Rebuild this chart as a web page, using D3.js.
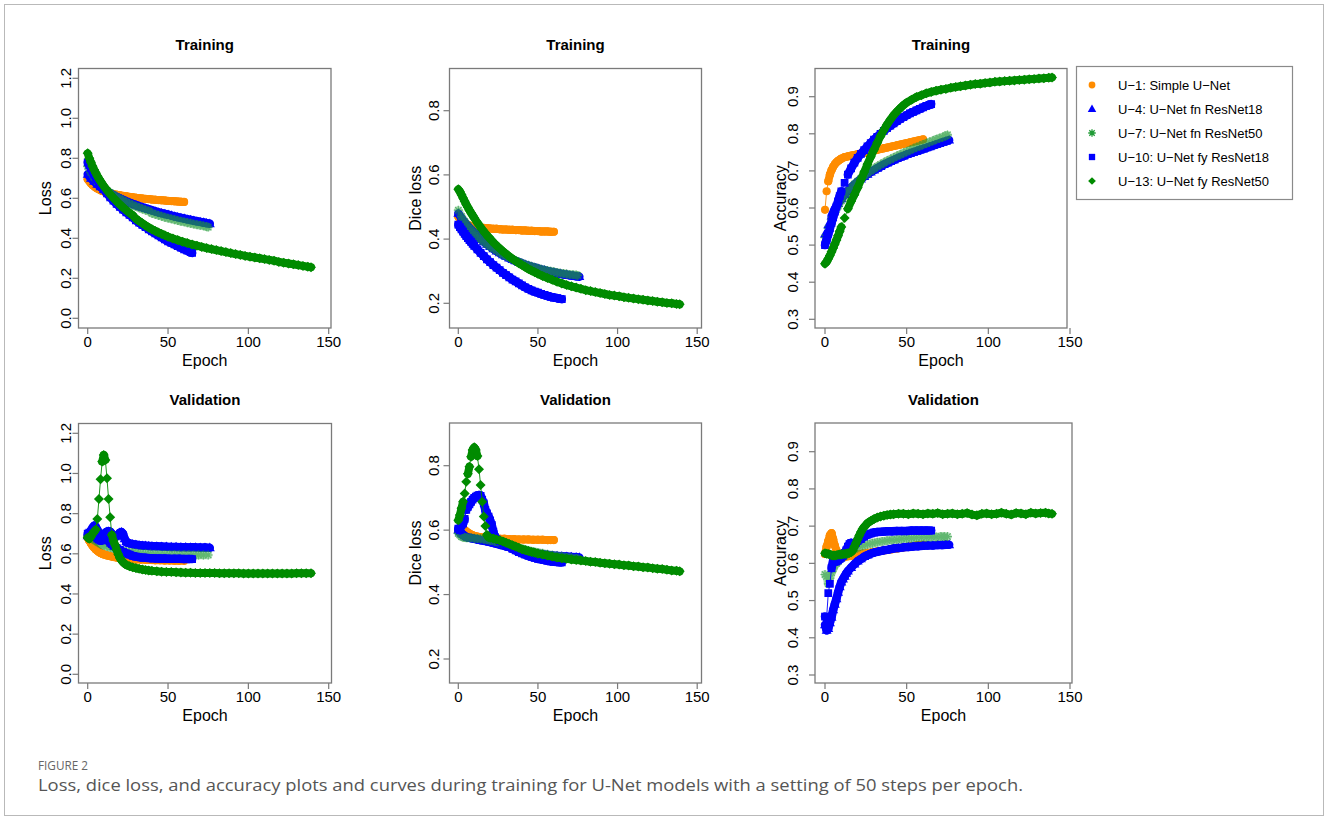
<!DOCTYPE html>
<html><head><meta charset="utf-8">
<script src="https://cdn.jsdelivr.net/npm/d3@7"></script>
<style>
body{margin:0;background:#fff;}
svg text{font-family:"Liberation Sans",Arial,Helvetica,sans-serif;fill:#000;}
</style></head><body>
<svg id="fig" width="1328" height="820"></svg>
<script>
// ---------------- legend / series ----------------
const seriesNames = ["U\u22121: Simple U\u2212Net","U\u22124: U\u2212Net fn ResNet18","U\u22127: U\u2212Net fn ResNet50","U\u221210: U\u2212Net fy ResNet18","U\u221213: U\u2212Net fy ResNet50"];
const seriesColors = ["#ff8c00","#0000ff","#1f9a35","#0000ff","#008b00"];
const seriesShapes = ["circle","triangle","asterisk","square","diamond"];

// ---------------- tick labels ----------------
const xTicks = [0,50,100,150];
const lossTicks = [0.0,0.2,0.4,0.6,0.8,1.0,1.2];
const diceTicks = [0.2,0.4,0.6,0.8];
const accTicks = [0.3,0.4,0.5,0.6,0.7,0.8,0.9];

// ---------------- data: [epoch, value] ----------------
// Training loss
const trainLossU1 = [[0,.695],[1,.685],[2,.675],[3,.667],[4,.66],[5,.654],[6,.649],[7,.645],[8,.641],[9,.637],[10,.634],[12,.629],[14,.625],[16,.621],[18,.618],[20,.615],[22,.612],[24,.61],[26,.607],[28,.605],[30,.603],[32,.601],[34,.599],[36,.597],[38,.596],[40,.594],[42,.593],[44,.591],[46,.59],[48,.589],[50,.587],[52,.586],[54,.585],[56,.584],[58,.583],[60,.582]];
const trainLossU4 = [[0,.72],[2,.70],[4,.685],[6,.67],[8,.657],[10,.645],[12,.635],[14,.625],[16,.616],[18,.607],[20,.6],[22,.592],[24,.585],[26,.578],[28,.572],[30,.566],[32,.56],[34,.555],[36,.55],[38,.545],[40,.54],[42,.535],[44,.53],[46,.526],[48,.522],[50,.518],[52,.514],[54,.51],[56,.506],[58,.502],[60,.499],[62,.495],[64,.492],[66,.488],[68,.485],[70,.482],[72,.479],[74,.476],[76,.473]];
const trainLossU7 = [[0,.76],[2,.73],[4,.705],[6,.685],[8,.668],[10,.653],[12,.64],[14,.628],[16,.617],[18,.607],[20,.598],[22,.589],[24,.581],[26,.573],[28,.566],[30,.559],[32,.553],[34,.547],[36,.541],[38,.536],[40,.525],[42,.52],[44,.515],[46,.51],[48,.505],[50,.501],[52,.497],[54,.493],[56,.489],[58,.485],[60,.482],[62,.478],[64,.475],[66,.471],[68,.468],[70,.465],[72,.462],[74,.458],[75,.456]];
const trainLossU10 = [[0,.78],[1,.765],[2,.75],[3,.735],[4,.72],[5,.705],[6,.692],[7,.68],[8,.668],[9,.656],[10,.645],[12,.624],[14,.605],[16,.588],[18,.572],[20,.557],[22,.543],[24,.53],[26,.517],[28,.505],[30,.49],[32,.478],[34,.467],[36,.456],[38,.445],[40,.435],[42,.425],[44,.415],[46,.405],[48,.395],[50,.385],[52,.377],[54,.369],[56,.361],[58,.353],[60,.345],[62,.338],[64,.331],[65,.327]];
const trainLossU13 = [[0,.825],[1,.80],[2,.78],[3,.76],[4,.743],[5,.727],[6,.712],[7,.698],[8,.685],[9,.673],[10,.661],[12,.64],[14,.62],[16,.602],[18,.585],[20,.569],[22,.554],[24,.54],[26,.527],[28,.515],[30,.498],[32,.486],[34,.475],[36,.464],[38,.454],[40,.445],[42,.437],[44,.429],[46,.422],[48,.415],[50,.408],[53,.399],[56,.391],[59,.383],[62,.376],[65,.369],[68,.363],[71,.357],[74,.351],[77,.346],[80,.341],[83,.336],[86,.331],[89,.326],[92,.321],[95,.317],[98,.312],[101,.308],[104,.304],[107,.3],[110,.296],[113,.292],[116,.288],[119,.282],[122,.278],[125,.274],[128,.27],[131,.266],[134,.262],[137,.258],[139,.255]];

// Training dice loss
const trainDiceU1 = [[0,.47],[1,.462],[2,.456],[3,.452],[4,.449],[5,.446],[6,.444],[7,.442],[8,.441],[10,.439],[12,.437],[14,.436],[16,.435],[18,.434],[20,.433],[22,.432],[24,.432],[26,.431],[28,.43],[30,.43],[32,.429],[34,.429],[36,.428],[38,.428],[40,.427],[42,.427],[44,.426],[46,.426],[48,.425],[50,.425],[52,.424],[54,.424],[56,.424],[58,.423],[60,.423]];
const trainDiceU4 = [[0,.48],[2,.465],[4,.452],[6,.44],[8,.43],[10,.42],[12,.41],[14,.401],[16,.392],[18,.384],[20,.377],[22,.37],[24,.363],[26,.357],[28,.351],[30,.346],[32,.341],[34,.336],[36,.332],[38,.328],[40,.324],[42,.32],[44,.317],[46,.314],[48,.311],[50,.308],[52,.305],[54,.303],[56,.3],[58,.298],[60,.296],[62,.294],[64,.292],[66,.29],[68,.289],[70,.287],[72,.286],[74,.284],[76,.283]];
const trainDiceU7 = [[0,.49],[2,.47],[4,.455],[6,.442],[8,.43],[10,.42],[12,.41],[14,.4],[16,.392],[18,.384],[20,.377],[22,.37],[24,.364],[26,.358],[28,.352],[30,.347],[32,.342],[34,.337],[36,.333],[38,.329],[40,.325],[42,.321],[44,.318],[46,.315],[48,.312],[50,.309],[52,.306],[54,.304],[56,.302],[58,.3],[60,.298],[62,.296],[64,.294],[66,.293],[68,.291],[70,.29],[72,.289],[74,.288],[75,.287]];
const trainDiceU10 = [[0,.445],[1,.437],[2,.43],[3,.423],[4,.416],[5,.409],[6,.403],[7,.397],[8,.391],[9,.385],[10,.379],[12,.368],[14,.357],[16,.347],[18,.337],[20,.328],[22,.319],[24,.311],[26,.303],[28,.295],[30,.288],[32,.281],[34,.274],[36,.268],[38,.262],[40,.256],[42,.25],[44,.245],[46,.24],[48,.236],[50,.233],[52,.229],[54,.226],[56,.223],[58,.22],[60,.218],[62,.216],[64,.214],[65,.213]];
const trainDiceU13 = [[0,.555],[1,.548],[2,.538],[3,.528],[4,.518],[5,.508],[6,.499],[7,.49],[8,.482],[9,.474],[10,.466],[12,.451],[14,.437],[16,.424],[18,.412],[20,.401],[22,.39],[24,.38],[26,.371],[28,.362],[30,.354],[32,.346],[34,.339],[36,.332],[38,.325],[40,.319],[42,.313],[44,.307],[46,.302],[48,.297],[50,.292],[53,.285],[56,.279],[59,.273],[62,.267],[65,.262],[68,.257],[71,.253],[74,.249],[77,.245],[80,.241],[83,.238],[86,.235],[89,.232],[92,.229],[95,.226],[98,.224],[101,.222],[104,.219],[107,.217],[110,.215],[113,.213],[116,.211],[119,.209],[122,.207],[125,.205],[128,.203],[131,.201],[134,.2],[137,.198],[139,.197]];

// Training accuracy
const trainAccU1 = [[0,.595],[1,.645],[2,.672],[3,.69],[4,.702],[5,.711],[6,.718],[7,.723],[8,.727],[9,.73],[10,.733],[12,.737],[14,.739],[16,.741],[18,.743],[20,.745],[22,.747],[24,.749],[26,.751],[28,.753],[30,.755],[32,.757],[34,.759],[36,.761],[38,.763],[40,.765],[42,.767],[44,.769],[46,.771],[48,.773],[50,.775],[52,.777],[54,.779],[56,.781],[58,.783],[60,.785]];
const trainAccU4 = [[0,.53],[2,.555],[4,.578],[6,.597],[8,.612],[10,.625],[12,.636],[14,.646],[16,.655],[18,.663],[20,.671],[22,.678],[24,.685],[26,.691],[28,.697],[30,.702],[32,.707],[34,.712],[36,.717],[38,.721],[40,.725],[42,.729],[44,.733],[46,.737],[48,.74],[50,.744],[52,.747],[54,.75],[56,.753],[58,.756],[60,.759],[62,.762],[64,.765],[66,.768],[68,.771],[70,.774],[72,.777],[74,.78],[76,.783]];
const trainAccU7 = [[0,.52],[2,.545],[4,.568],[6,.588],[8,.605],[10,.62],[12,.633],[14,.645],[16,.655],[18,.664],[20,.672],[22,.68],[24,.687],[26,.694],[28,.7],[30,.706],[32,.712],[34,.717],[36,.722],[38,.727],[40,.731],[42,.736],[44,.74],[46,.744],[48,.748],[50,.752],[52,.756],[54,.76],[56,.764],[58,.767],[60,.771],[62,.774],[64,.778],[66,.781],[68,.785],[70,.788],[72,.791],[74,.795],[75,.797]];
const trainAccU10 = [[0,.50],[1,.515],[2,.53],[3,.545],[4,.56],[5,.575],[6,.59],[7,.604],[8,.618],[9,.632],[10,.645],[12,.668],[14,.69],[16,.707],[18,.722],[20,.735],[22,.746],[24,.756],[26,.766],[28,.775],[30,.784],[32,.792],[34,.8],[36,.808],[38,.815],[40,.822],[42,.828],[44,.834],[46,.84],[48,.845],[50,.85],[52,.855],[54,.859],[56,.863],[58,.867],[60,.871],[62,.875],[64,.878],[65,.88]];
const trainAccU13 = [[0,.45],[1,.455],[2,.463],[3,.472],[4,.482],[5,.492],[6,.503],[7,.514],[8,.525],[9,.537],[10,.549],[12,.573],[14,.598],[16,.618],[18,.636],[20,.655],[22,.676],[24,.697],[26,.718],[28,.738],[30,.757],[32,.776],[34,.794],[36,.81],[38,.825],[40,.838],[42,.85],[44,.86],[46,.869],[48,.877],[50,.884],[53,.892],[56,.899],[59,.904],[62,.909],[65,.913],[68,.916],[71,.919],[74,.921],[77,.924],[80,.926],[83,.928],[86,.93],[89,.932],[92,.934],[95,.935],[98,.937],[101,.938],[104,.94],[107,.941],[110,.942],[113,.943],[116,.944],[119,.945],[122,.946],[125,.947],[128,.948],[131,.949],[134,.95],[137,.951],[139,.952]];

// Validation loss
const valLossU1 = [[0,.68],[1,.665],[2,.652],[3,.64],[4,.63],[5,.622],[6,.615],[7,.609],[8,.604],[9,.6],[10,.597],[12,.592],[14,.588],[16,.584],[18,.581],[20,.579],[22,.577],[24,.575],[26,.574],[28,.573],[30,.572],[33,.571],[36,.57],[39,.569],[42,.568],[45,.568],[48,.567],[51,.567],[54,.566],[57,.566],[60,.565]];
const valLossU4 = [[0,.69],[1,.70],[2,.715],[3,.73],[4,.74],[5,.735],[6,.72],[7,.705],[8,.695],[9,.69],[10,.695],[11,.705],[12,.71],[13,.712],[14,.71],[15,.70],[16,.69],[17,.685],[18,.688],[19,.695],[20,.705],[21,.708],[22,.70],[23,.675],[24,.66],[25,.655],[26,.652],[28,.648],[30,.645],[32,.643],[34,.641],[36,.64],[38,.639],[40,.638],[43,.637],[46,.636],[49,.635],[52,.634],[55,.634],[58,.633],[61,.633],[64,.632],[67,.632],[70,.631],[73,.631],[76,.63]];
const valLossU7 = [[0,.69],[1,.685],[2,.68],[3,.675],[4,.67],[5,.665],[6,.66],[7,.655],[8,.65],[9,.645],[10,.642],[12,.637],[14,.632],[16,.627],[18,.622],[20,.618],[22,.614],[24,.611],[26,.608],[28,.606],[30,.604],[33,.602],[36,.6],[39,.599],[42,.598],[45,.597],[48,.597],[51,.596],[54,.596],[57,.595],[60,.595],[63,.595],[66,.594],[69,.594],[72,.594],[75,.594]];
const valLossU10 = [[0,.70],[1,.705],[2,.71],[3,.705],[4,.695],[5,.685],[6,.675],[7,.67],[8,.665],[9,.668],[10,.672],[11,.675],[12,.672],[13,.665],[14,.655],[15,.648],[16,.64],[18,.63],[20,.62],[22,.61],[24,.602],[26,.596],[28,.59],[30,.586],[33,.582],[36,.58],[39,.578],[42,.577],[45,.576],[48,.576],[51,.575],[54,.575],[57,.575],[60,.574],[63,.574],[65,.574]];
const valLossU13 = [[0,.68],[1,.675],[2,.685],[3,.70],[4,.71],[5,.72],[6,.773],[7,.873],[8,.971],[9,1.059],[10,1.092],[11,1.067],[12,.976],[13,.873],[14,.782],[15,.694],[16,.665],[17,.645],[18,.62],[19,.598],[20,.58],[21,.568],[22,.558],[23,.551],[24,.545],[26,.538],[28,.533],[30,.529],[32,.525],[34,.522],[36,.519],[38,.517],[40,.515],[43,.513],[46,.511],[49,.51],[52,.509],[55,.508],[58,.507],[61,.506],[64,.506],[67,.505],[70,.505],[73,.504],[76,.504],[79,.504],[82,.503],[85,.503],[88,.503],[91,.503],[94,.503],[97,.502],[100,.502],[103,.502],[106,.502],[109,.502],[112,.502],[115,.502],[118,.502],[121,.502],[124,.502],[127,.502],[130,.503],[133,.503],[136,.503],[139,.503]];

// Validation dice loss
const valDiceU1 = [[0,.60],[1,.603],[2,.606],[3,.604],[4,.60],[5,.596],[6,.592],[7,.589],[8,.586],[9,.584],[10,.582],[12,.58],[14,.578],[16,.577],[18,.576],[20,.575],[23,.574],[26,.573],[29,.573],[32,.572],[35,.572],[38,.571],[41,.571],[44,.571],[47,.57],[50,.57],[53,.57],[56,.569],[58,.569],[60,.569]];
const valDiceU4 = [[0,.60],[1,.595],[2,.59],[3,.586],[4,.582],[5,.579],[6,.577],[8,.575],[10,.573],[12,.571],[14,.569],[16,.567],[18,.565],[20,.563],[23,.559],[26,.555],[29,.551],[32,.547],[35,.543],[38,.539],[41,.536],[44,.533],[47,.53],[50,.527],[53,.525],[56,.523],[59,.521],[62,.52],[65,.519],[68,.518],[71,.517],[74,.516],[76,.515]];
const valDiceU7 = [[0,.59],[1,.585],[2,.58],[3,.578],[4,.577],[5,.576],[6,.576],[8,.576],[10,.575],[12,.574],[14,.573],[16,.572],[18,.57],[20,.568],[23,.565],[26,.561],[29,.557],[32,.553],[35,.549],[38,.545],[41,.541],[44,.537],[47,.534],[50,.531],[53,.528],[56,.525],[59,.522],[62,.52],[65,.518],[68,.516],[71,.514],[74,.512],[75,.511]];
const valDiceU10 = [[0,.605],[1,.60],[2,.616],[3,.62],[4,.635],[5,.663],[6,.672],[7,.68],[8,.688],[9,.695],[10,.70],[11,.704],[12,.707],[13,.709],[14,.706],[15,.695],[16,.683],[17,.662],[18,.652],[19,.642],[20,.63],[21,.616],[22,.595],[23,.578],[24,.572],[26,.566],[28,.56],[30,.554],[32,.548],[34,.542],[36,.537],[38,.532],[40,.528],[42,.524],[44,.52],[46,.517],[48,.514],[50,.511],[52,.509],[54,.507],[56,.505],[58,.503],[60,.502],[62,.501],[64,.50],[65,.50]];
const valDiceU13 = [[0,.631],[1,.647],[2,.668],[3,.688],[4,.714],[5,.75],[6,.775],[7,.797],[8,.828],[9,.849],[10,.857],[11,.849],[12,.83],[13,.789],[14,.74],[15,.688],[16,.642],[17,.613],[18,.585],[19,.578],[20,.576],[22,.574],[24,.571],[26,.568],[28,.565],[30,.561],[32,.557],[34,.553],[36,.549],[38,.545],[40,.541],[42,.538],[44,.535],[46,.532],[48,.53],[50,.527],[53,.524],[56,.521],[59,.518],[62,.515],[65,.513],[68,.511],[71,.509],[74,.507],[77,.506],[80,.504],[83,.502],[86,.501],[89,.499],[92,.497],[95,.496],[98,.494],[101,.493],[104,.491],[107,.49],[110,.488],[113,.487],[116,.485],[119,.484],[122,.482],[125,.48],[128,.479],[131,.477],[134,.475],[137,.474],[139,.472]];

// Validation accuracy
const valAccU1 = [[0,.625],[1,.645],[2,.66],[3,.675],[4,.681],[5,.665],[6,.648],[7,.635],[8,.625],[9,.62],[10,.618],[12,.618],[14,.619],[16,.62],[18,.622],[20,.624],[23,.626],[26,.628],[29,.63],[32,.632],[35,.634],[38,.636],[41,.638],[44,.64],[47,.642],[50,.644],[53,.646],[56,.648],[58,.649],[60,.65]];
const valAccU4 = [[0,.435],[1,.42],[2,.425],[3,.44],[4,.455],[5,.475],[6,.49],[7,.505],[8,.522],[9,.537],[10,.55],[11,.558],[12,.565],[13,.573],[14,.579],[16,.589],[18,.598],[20,.606],[22,.612],[24,.618],[26,.622],[28,.626],[30,.629],[33,.632],[36,.635],[39,.637],[42,.64],[45,.641],[48,.643],[51,.644],[54,.645],[57,.646],[60,.647],[63,.648],[66,.648],[69,.649],[72,.649],[74,.65],[76,.65]];
const valAccU7 = [[0,.57],[1,.565],[2,.545],[3,.56],[4,.575],[5,.585],[6,.595],[7,.60],[8,.605],[9,.61],[10,.614],[12,.62],[14,.627],[16,.633],[18,.638],[20,.642],[23,.647],[26,.651],[29,.654],[32,.657],[35,.659],[38,.661],[41,.663],[44,.664],[47,.666],[50,.667],[53,.668],[56,.669],[59,.67],[62,.67],[65,.671],[68,.671],[71,.672],[73,.672],[75,.672]];
const valAccU10 = [[0,.457],[1,.455],[2,.52],[3,.545],[4,.587],[5,.608],[6,.615],[7,.605],[8,.608],[9,.612],[10,.615],[11,.62],[12,.628],[13,.635],[14,.645],[15,.652],[16,.655],[17,.652],[18,.65],[19,.655],[20,.66],[22,.665],[24,.672],[26,.677],[28,.68],[30,.683],[32,.684],[35,.685],[38,.686],[41,.686],[44,.687],[47,.687],[50,.687],[53,.688],[56,.688],[59,.688],[62,.688],[65,.688]];
const valAccU13 = [[0,.627],[1,.626],[2,.625],[3,.624],[4,.622],[5,.621],[6,.621],[7,.622],[8,.623],[9,.624],[10,.624],[11,.625],[12,.625],[13,.626],[14,.627],[15,.628],[16,.63],[17,.635],[18,.645],[19,.655],[20,.665],[21,.675],[22,.684],[23,.692],[24,.698],[25,.703],[26,.708],[28,.714],[30,.719],[32,.723],[34,.726],[36,.728],[38,.73],[40,.731],[42,.732],[45,.733],[48,.733],[51,.732],[54,.734],[57,.733],[60,.732],[63,.734],[66,.733],[69,.735],[72,.732],[75,.733],[78,.734],[81,.732],[84,.733],[87,.735],[90,.731],[93,.729],[96,.733],[99,.734],[102,.732],[105,.733],[108,.736],[111,.733],[114,.731],[117,.735],[120,.734],[123,.732],[126,.736],[129,.734],[132,.735],[135,.736],[137,.734],[139,.733]];

// ---------------- layout ----------------
const panels = [
  {title:"Training", ylab:"Loss", data:[trainLossU1,trainLossU4,trainLossU7,trainLossU10,trainLossU13], ticks:lossTicks,
   box:[78.5,68.5,331,328], xPx:[87.7,328.7], yPx:[318.3,78.3], tickLabX:66, yLabX:45, row:0},
  {title:"Training", ylab:"Dice loss", data:[trainDiceU1,trainDiceU4,trainDiceU7,trainDiceU10,trainDiceU13], ticks:diceTicks,
   box:[449.5,68.5,701.5,328], xPx:[458.3,697.2], yPx:[303.3,110.7], tickLabX:433.5, yLabX:415, row:0},
  {title:"Training", ylab:"Accuracy", data:[trainAccU1,trainAccU4,trainAccU7,trainAccU10,trainAccU13], ticks:accTicks,
   box:[815,68.5,1067,328], xPx:[825,1070], yPx:[319.3,96.7], tickLabX:792.5, yLabX:780, row:0},
  {title:"Validation", ylab:"Loss", data:[valLossU1,valLossU4,valLossU7,valLossU10,valLossU13], ticks:lossTicks,
   box:[78.5,423.5,331.5,683], xPx:[87.7,328.7], yPx:[674.3,433.3], tickLabX:66, yLabX:45, row:1},
  {title:"Validation", ylab:"Dice loss", data:[valDiceU1,valDiceU4,valDiceU7,valDiceU10,valDiceU13], ticks:diceTicks,
   box:[449.5,423,701.5,683], xPx:[458.3,697.2], yPx:[659,465.7], tickLabX:433.5, yLabX:415, row:1},
  {title:"Validation", ylab:"Accuracy", data:[valAccU1,valAccU4,valAccU7,valAccU10,valAccU13], ticks:accTicks,
   box:[815,423,1072,683], xPx:[825,1070], yPx:[675,451.7], tickLabX:792.5, yLabX:780, row:1}
];
const rows = [{title:45, tickLab:342, xlab:360},{title:400, tickLab:697, xlab:715}];

// ---------------- symbols ----------------
const asterisk8 = {draw(ctx, size){ const r = Math.sqrt(size)/2; const d = r*0.72;
  ctx.moveTo(-r,0); ctx.lineTo(r,0); ctx.moveTo(0,-r); ctx.lineTo(0,r);
  ctx.moveTo(-d,-d); ctx.lineTo(d,d); ctx.moveTo(-d,d); ctx.lineTo(d,-d);} };
const diamond45 = {draw(ctx, size){ const r = Math.sqrt(size/2);
  ctx.moveTo(0,-r); ctx.lineTo(r,0); ctx.lineTo(0,r); ctx.lineTo(-r,0); ctx.closePath(); } };
const tri = {draw(ctx,size){ const s = Math.sqrt(size); const h = s*0.86;
  ctx.moveTo(0,-h*0.6); ctx.lineTo(s/2,h*0.4); ctx.lineTo(-s/2,h*0.4); ctx.closePath(); } };
const symbolFor = {
  circle: d3.symbol(d3.symbolCircle, 52)(),
  triangle: d3.symbol(tri, 100)(),
  asterisk: d3.symbol(asterisk8, 80)(),
  square: d3.symbol(d3.symbolSquare, 60)(),
  diamond: d3.symbol(diamond45, 50)()
};
const bandWidth = {circle:8, triangle:8.5, asterisk:8.5, square:8.5, diamond:8};
const legendSymbol = {
  circle: d3.symbol(d3.symbolCircle, 36)(),
  triangle: d3.symbol(tri, 72)(),
  asterisk: d3.symbol(asterisk8, 56)(),
  square: d3.symbol(d3.symbolSquare, 40)(),
  diamond: d3.symbol(diamond45, 30)()
};

const svg = d3.select("#fig");
// figure frame
svg.append("rect").attr("x",4.5).attr("y",4.5).attr("width",1319).attr("height",811)
  .attr("fill","none").attr("stroke","#b9b9b9").attr("stroke-width",1);

panels.forEach((p, pi) => {
  const g = svg.append("g");
  const x = d3.scaleLinear().domain([0,150]).range(p.xPx);
  const y = d3.scaleLinear().domain([p.ticks[0], p.ticks[p.ticks.length-1]]).range(p.yPx);
  const [l,t,r,b] = p.box;
  const R = rows[p.row];

  const clipId = "clip"+pi;
  g.append("clipPath").attr("id",clipId).append("rect").attr("x",l).attr("y",t).attr("width",r-l).attr("height",b-t);
  const plot = g.append("g").attr("clip-path",`url(#${clipId})`);

  const line = d3.line().x(d=>x(d[0])).y(d=>y(d[1]));
  p.data.forEach((ser, si) => {
    const col = seriesColors[si];
    const shp = seriesShapes[si];
    const sg = plot.append("g").attr("opacity", si===2 ? 0.7 : 1);
    // dense-marker band: consecutive points that overlap visually are joined by a thick stroke
    const pairs = d3.pairs(ser).filter(([a,c]) => Math.abs(y(a[1]) - y(c[1])) < 8);
    sg.selectAll("line.band").data(pairs).enter().append("line").attr("class","band")
      .attr("x1", d=>x(d[0][0])).attr("y1", d=>y(d[0][1]))
      .attr("x2", d=>x(d[1][0])).attr("y2", d=>y(d[1][1]))
      .attr("stroke", col).attr("stroke-width", bandWidth[shp]).attr("stroke-linecap","round")
      .attr("stroke-opacity", shp==="asterisk" ? 0.45 : 1);
    sg.append("path").attr("d", line(ser)).attr("fill","none").attr("stroke",col).attr("stroke-width",0.9);
    sg.selectAll("path.m").data(ser).enter().append("path").attr("class","m")
      .attr("d", symbolFor[shp])
      .attr("transform", d=>`translate(${x(d[0])},${y(d[1])})`)
      .attr("fill", shp==="asterisk" ? "none" : col)
      .attr("stroke", shp==="asterisk" ? col : "none")
      .attr("stroke-width", 1.2);
  });

  // box
  g.append("rect").attr("x",l).attr("y",t).attr("width",r-l).attr("height",b-t)
    .attr("fill","none").attr("stroke","#7a7a7a").attr("stroke-width",1.3);

  // x axis ticks
  const xa = g.append("g");
  xTicks.forEach(v => {
    xa.append("line").attr("x1",x(v)).attr("x2",x(v)).attr("y1",b).attr("y2",b+6).attr("stroke","#7a7a7a").attr("stroke-width",1.2);
    xa.append("text").attr("x",x(v)).attr("y",R.tickLab).attr("dy","0.36em").attr("text-anchor","middle")
      .style("font-size","15px").text(d3.format("d")(v));
  });
  // y axis ticks (rotated labels, as in R)
  const ya = g.append("g");
  p.ticks.forEach(v => {
    ya.append("line").attr("x1",l-6).attr("x2",l).attr("y1",y(v)).attr("y2",y(v)).attr("stroke","#7a7a7a").attr("stroke-width",1.2);
    ya.append("text").attr("transform",`translate(${p.tickLabX},${y(v)}) rotate(-90)`).attr("dy","0.36em")
      .attr("text-anchor","middle").style("font-size","15px").text(d3.format(".1f")(v));
  });
  // labels
  g.append("text").attr("x",(l+r)/2).attr("y",R.title).attr("dy","0.36em").attr("text-anchor","middle")
    .style("font-size","15px").style("font-weight","bold").text(p.title);
  g.append("text").attr("x",(l+r)/2).attr("y",R.xlab).attr("dy","0.36em").attr("text-anchor","middle")
    .style("font-size","16px").text("Epoch");
  g.append("text").attr("transform",`translate(${p.yLabX},${(t+b)/2}) rotate(-90)`).attr("dy","0.36em")
    .attr("text-anchor","middle").style("font-size","16px").text(p.ylab);
});

// legend
const lg = svg.append("g");
lg.append("rect").attr("x",1076.5).attr("y",66.5).attr("width",216).attr("height",133)
  .attr("fill","#fff").attr("stroke","#8a8a8a").attr("stroke-width",1.2);
seriesNames.forEach((nm, i) => {
  const yy = 85 + i*24;
  const shp = seriesShapes[i];
  lg.append("path").attr("d", legendSymbol[shp]).attr("transform",`translate(1092,${yy})`)
    .attr("fill", shp==="asterisk" ? "none" : seriesColors[i])
    .attr("stroke", shp==="asterisk" ? seriesColors[i] : "none").attr("stroke-width",1.3);
  lg.append("text").attr("x",1118).attr("y",yy).attr("dy","0.36em").style("font-size","13px").text(nm);
});

// caption
svg.append("text").attr("x",38).attr("y",770).style("font-family","'Open Sans',sans-serif")
  .style("font-size","12px").style("fill","#666").attr("textLength",50).attr("lengthAdjust","spacingAndGlyphs").text("FIGURE 2");
svg.append("text").attr("x",38).attr("y",791).style("font-family","'Open Sans',sans-serif")
  .style("font-size","15.5px").style("fill","#555").attr("textLength",985).attr("lengthAdjust","spacingAndGlyphs")
  .text("Loss, dice loss, and accuracy plots and curves during training for U-Net models with a setting of 50 steps per epoch.");
</script>
</body></html>
